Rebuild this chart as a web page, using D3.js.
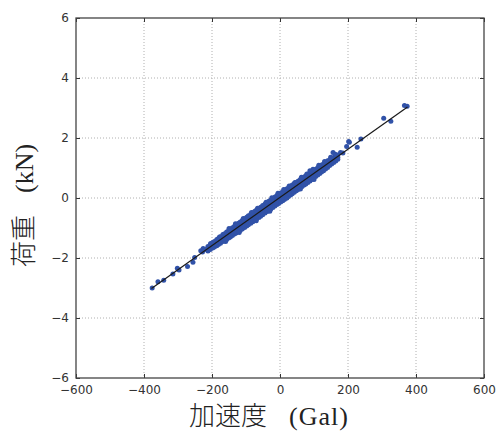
<!DOCTYPE html>
<html>
<head>
<meta charset="utf-8">
<script src="https://cdn.jsdelivr.net/npm/d3@7"></script>
<style>
  html, body { margin: 0; padding: 0; background: #fff; }
  svg { display: block; }
</style>
</head>
<body>
<svg id="chart" width="498" height="432"></svg>
<script>
// ---- data ----
const xTicks = [-600, -400, -200, 0, 200, 400, 600];
const yTicks = [-6, -4, -2, 0, 2, 4, 6];

const bandAccel = [-212,-205,-198,-193,-186,-181,-175,-168,-163,-157,-151,-146,-140,-134,-129,-122,-117,-111,-104,-98,-93,-86,-80,-74,-69,-62,-57,-51,-44,-38,-33,-27,-21,-15,-9,-4,2,8,13,19,25,31,36,42,48,53,59,65,71,76,82,88,94,99,105,111,117,122,128,134,140,146,152,158,164,170];
const bandUpper = [-1.62,-1.55,-1.48,-1.45,-1.38,-1.35,-1.29,-1.22,-1.19,-1.13,-1.09,-1.04,-0.99,-0.94,-0.89,-0.84,-0.80,-0.75,-0.69,-0.64,-0.59,-0.54,-0.49,-0.44,-0.40,-0.35,-0.31,-0.25,-0.20,-0.15,-0.11,-0.07,-0.02,0.03,0.08,0.12,0.17,0.21,0.25,0.30,0.34,0.39,0.43,0.48,0.52,0.56,0.61,0.65,0.70,0.74,0.79,0.83,0.88,0.91,0.96,1.01,1.05,1.10,1.13,1.18,1.22,1.27,1.31,1.35,1.39,1.43];
const bandMid = [-1.70,-1.64,-1.58,-1.54,-1.49,-1.45,-1.40,-1.34,-1.30,-1.26,-1.21,-1.17,-1.12,-1.07,-1.03,-0.98,-0.94,-0.89,-0.83,-0.78,-0.74,-0.69,-0.64,-0.59,-0.55,-0.50,-0.46,-0.41,-0.35,-0.30,-0.26,-0.22,-0.17,-0.12,-0.07,-0.03,0.02,0.06,0.10,0.15,0.20,0.25,0.29,0.34,0.38,0.42,0.47,0.52,0.57,0.61,0.66,0.70,0.75,0.79,0.84,0.89,0.94,0.98,1.02,1.07,1.12,1.17,1.22,1.26,1.31,1.36];
const bandLower = [-1.77,-1.72,-1.67,-1.63,-1.59,-1.55,-1.51,-1.45,-1.42,-1.38,-1.33,-1.30,-1.25,-1.20,-1.17,-1.12,-1.08,-1.03,-0.98,-0.93,-0.89,-0.84,-0.79,-0.74,-0.70,-0.65,-0.61,-0.56,-0.50,-0.45,-0.41,-0.37,-0.32,-0.27,-0.22,-0.18,-0.13,-0.09,-0.05,0.00,0.05,0.10,0.14,0.19,0.24,0.28,0.33,0.38,0.43,0.47,0.52,0.57,0.62,0.66,0.72,0.77,0.82,0.87,0.91,0.97,1.02,1.08,1.13,1.18,1.23,1.29];

// scattered points just outside the dense band
const bumpAccel = [-204,-178,-150,-131,-108,-84,-66,-41,-24,-6,11,27,44,63,79,97,114,131,149,162,-160,-120,-70,-30,20,60,100];
const bumpLoad  = [-1.52,-1.30,-1.02,-0.86,-0.68,-0.48,-0.34,-0.14,0.01,0.16,0.28,0.40,0.52,0.69,0.80,0.96,1.09,1.22,1.36,1.46,-1.45,-1.15,-0.76,-0.44,0.00,0.30,0.62];

const sparseAccel = [-376,-359,-342,-315,-302,-297,-272,-256,-251,-233,-228,-226,-220,-187,-180,88,140,150,156,165,178,185,196,202,204,227,238,305,326,366,374];
const sparseLoad  = [-3.00,-2.79,-2.74,-2.53,-2.34,-2.40,-2.28,-2.14,-1.98,-1.76,-1.80,-1.68,-1.72,-1.48,-1.37,0.91,1.24,1.30,1.52,1.43,1.52,1.50,1.72,1.88,1.86,1.69,1.97,2.66,2.56,3.08,3.06];

const fitAccel = [-378, 375];
const fitLoad  = [-3.02, 3.03];

// ---- layout ----
const svg = d3.select("#chart");
const L = 76, R = 484, T = 18, B = 378;
const x = d3.scaleLinear().domain([-600, 600]).range([L, R]);
const y = d3.scaleLinear().domain([-6, 6]).range([B, T]);

// grid
const grid = svg.append("g");
grid.selectAll("line.gx").data(xTicks.slice(1, -1)).join("line")
  .attr("x1", d => x(d)).attr("x2", d => x(d)).attr("y1", T).attr("y2", B)
  .attr("stroke", "#b0b0b0").attr("stroke-width", 1).attr("stroke-dasharray", "1,2");
grid.selectAll("line.gy").data(yTicks.slice(1, -1)).join("line")
  .attr("y1", d => y(d)).attr("y2", d => y(d)).attr("x1", L).attr("x2", R)
  .attr("stroke", "#b0b0b0").attr("stroke-width", 1).attr("stroke-dasharray", "1,2");

// points
const pts = [];
bandAccel.forEach((a, i) => {
  pts.push([a, bandUpper[i]], [a, bandMid[i]], [a, bandLower[i]]);
});
bumpAccel.forEach((a, i) => pts.push([a, bumpLoad[i]]));
sparseAccel.forEach((a, i) => pts.push([a, sparseLoad[i]]));

svg.append("g").selectAll("circle").data(pts).join("circle")
  .attr("cx", d => x(d[0])).attr("cy", d => y(d[1])).attr("r", 2.5)
  .attr("fill", "#3152a8");

// fit line
svg.append("path")
  .datum(fitAccel.map((a, i) => [a, fitLoad[i]]))
  .attr("d", d3.line().x(d => x(d[0])).y(d => y(d[1])))
  .attr("stroke", "#1a1a1a").attr("stroke-width", 1.2).attr("fill", "none");

// axes (ticks inward, all four sides)
const tickFont = "'DejaVu Sans', sans-serif";
function styleAxis(g) {
  g.select(".domain").remove();
  g.selectAll(".tick line").attr("stroke", "#333");
  g.selectAll(".tick text").attr("fill", "#333").style("font-family", tickFont).style("font-size", "12px");
}
const fmt = d => d < 0 ? "\u2212" + Math.abs(d) : String(d);

svg.append("g").attr("transform", `translate(0,${B})`)
  .call(d3.axisBottom(x).tickValues(xTicks).tickFormat(fmt).tickSizeInner(-4).tickSizeOuter(0).tickPadding(7))
  .call(styleAxis);
svg.append("g").attr("transform", `translate(0,${T})`)
  .call(d3.axisTop(x).tickValues(xTicks).tickFormat("").tickSizeInner(-4).tickSizeOuter(0))
  .call(styleAxis);
svg.append("g").attr("transform", `translate(${L},0)`)
  .call(d3.axisLeft(y).tickValues(yTicks).tickFormat(fmt).tickSizeInner(-4).tickSizeOuter(0).tickPadding(7))
  .call(styleAxis);
svg.append("g").attr("transform", `translate(${R},0)`)
  .call(d3.axisRight(y).tickValues(yTicks).tickFormat("").tickSizeInner(-4).tickSizeOuter(0))
  .call(styleAxis);

// frame
svg.append("rect").attr("x", L).attr("y", T).attr("width", R - L).attr("height", B - T)
  .attr("fill", "none").attr("stroke", "#444").attr("stroke-width", 1.3);

// axis labels
const xl = svg.append("text").attr("x", 189).attr("y", 425)
  .attr("fill", "#222").style("font-size", "26px");
xl.append("tspan").style("font-family", "'Noto Sans CJK JP'").style("font-weight", "300").text("加速度");
xl.append("tspan").attr("dx", 22).style("font-family", "'Liberation Serif', serif").style("letter-spacing", "1px").text("(Gal)");

const yl = svg.append("text").attr("transform", "translate(33,267) rotate(-90)")
  .attr("fill", "#222").style("font-size", "26px");
yl.append("tspan").style("font-family", "'Noto Sans CJK JP'").style("font-weight", "300").text("荷重");
yl.append("tspan").attr("dx", 22).style("font-family", "'Liberation Serif', serif").text("(kN)");
</script>
</body>
</html>
